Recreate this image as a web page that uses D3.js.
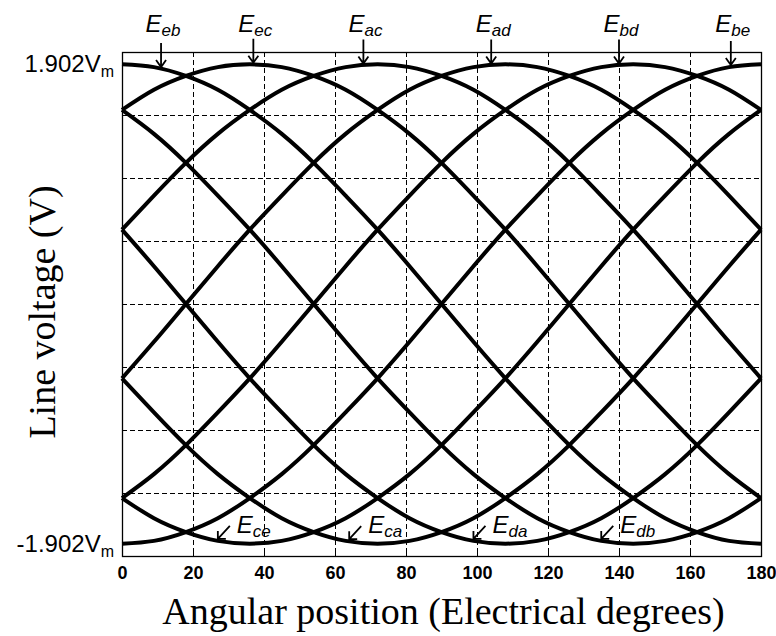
<!DOCTYPE html>
<html>
<head>
<meta charset="utf-8">
<script src="https://cdn.jsdelivr.net/npm/d3@7"></script>
<style>
  html, body { margin: 0; padding: 0; background: #fff; }
  svg { display: block; }
</style>
</head>
<body>
<svg id="chart" width="776" height="636"></svg>
<script>
// Sample angles (electrical degrees)
const angles = [0, 9, 18, 27, 36, 45, 54, 63, 72, 81, 90, 99, 108, 117, 126, 135, 144, 153, 162, 171, 180];

// Line voltages in units of Vm, one array per line voltage
const E_eb = [1.902, 1.88, 1.81, 1.70, 1.54, 1.35, 1.12, 0.86, 0.59, 0.30, 0, -0.30, -0.59, -0.86, -1.12, -1.35, -1.54, -1.70, -1.81, -1.88, -1.902];
const E_ec = [1.54, 1.70, 1.81, 1.88, 1.902, 1.88, 1.81, 1.70, 1.54, 1.35, 1.12, 0.86, 0.59, 0.30, 0, -0.30, -0.59, -0.86, -1.12, -1.35, -1.54];
const E_ac = [0.59, 0.86, 1.12, 1.35, 1.54, 1.70, 1.81, 1.88, 1.902, 1.88, 1.81, 1.70, 1.54, 1.35, 1.12, 0.86, 0.59, 0.30, 0, -0.30, -0.59];
const E_ad = [-0.59, -0.30, 0, 0.30, 0.59, 0.86, 1.12, 1.35, 1.54, 1.70, 1.81, 1.88, 1.902, 1.88, 1.81, 1.70, 1.54, 1.35, 1.12, 0.86, 0.59];
const E_bd = [-1.54, -1.35, -1.12, -0.86, -0.59, -0.30, 0, 0.30, 0.59, 0.86, 1.12, 1.35, 1.54, 1.70, 1.81, 1.88, 1.902, 1.88, 1.81, 1.70, 1.54];
const E_be = [-1.902, -1.88, -1.81, -1.70, -1.54, -1.35, -1.12, -0.86, -0.59, -0.30, 0, 0.30, 0.59, 0.86, 1.12, 1.35, 1.54, 1.70, 1.81, 1.88, 1.902];
const E_ce = [-1.54, -1.70, -1.81, -1.88, -1.902, -1.88, -1.81, -1.70, -1.54, -1.35, -1.12, -0.86, -0.59, -0.30, 0, 0.30, 0.59, 0.86, 1.12, 1.35, 1.54];
const E_ca = [-0.59, -0.86, -1.12, -1.35, -1.54, -1.70, -1.81, -1.88, -1.902, -1.88, -1.81, -1.70, -1.54, -1.35, -1.12, -0.86, -0.59, -0.30, 0, 0.30, 0.59];
const E_da = [0.59, 0.30, 0, -0.30, -0.59, -0.86, -1.12, -1.35, -1.54, -1.70, -1.81, -1.88, -1.902, -1.88, -1.81, -1.70, -1.54, -1.35, -1.12, -0.86, -0.59];
const E_db = [1.54, 1.35, 1.12, 0.86, 0.59, 0.30, 0, -0.30, -0.59, -0.86, -1.12, -1.35, -1.54, -1.70, -1.81, -1.88, -1.902, -1.88, -1.81, -1.70, -1.54];

const seriesList = [E_eb, E_ec, E_ac, E_ad, E_bd, E_be, E_ce, E_ca, E_da, E_db];

// Axis ticks and grid
const xTicks = [0, 20, 40, 60, 80, 100, 120, 140, 160, 180];
const yGrid = [-1.5, -1, -0.5, 0, 0.5, 1, 1.5];
const yTickValues = [1.902, -1.902];
const yTickLabels = ["1.902", "-1.902"];

// Curve annotations: subscript, series, angle the arrow points at
const topNotes = [
  { sub: "eb", series: E_eb, angle: 11 },
  { sub: "ec", series: E_ec, angle: 37 },
  { sub: "ac", series: E_ac, angle: 68 },
  { sub: "ad", series: E_ad, angle: 104 },
  { sub: "bd", series: E_bd, angle: 140 },
  { sub: "be", series: E_be, angle: 171.5 }
];
const bottomNotes = [
  { sub: "ce", series: E_ce, angle: 27 },
  { sub: "ca", series: E_ca, angle: 64 },
  { sub: "da", series: E_da, angle: 99 },
  { sub: "db", series: E_db, angle: 135 }
];

const svg = d3.select("#chart");
const margin = { left: 122, right: 15, top: 52, bottom: 80 };
const W = 776, H = 636;
const x = d3.scaleLinear().domain([0, 180]).range([margin.left, W - margin.right]);
const y = d3.scaleLinear().domain([-2, 2]).range([H - margin.bottom, margin.top]);
const crisp = v => Math.round(v) + 0.5;

const sans = "'Liberation Sans', Arial, sans-serif";
const serif = "'Liberation Serif', 'Times New Roman', serif";

// Grid
const grid = svg.append("g").attr("stroke", "#000").attr("stroke-width", 1)
  .attr("stroke-dasharray", "5,3").attr("fill", "none");
grid.selectAll("line.v").data(xTicks.slice(1, -1)).join("line")
  .attr("x1", d => crisp(x(d))).attr("x2", d => crisp(x(d)))
  .attr("y1", y(2)).attr("y2", y(-2));
grid.selectAll("line.h").data(yGrid).join("line")
  .attr("x1", x(0)).attr("x2", x(180))
  .attr("y1", d => crisp(y(d))).attr("y2", d => crisp(y(d)));

// Curves
const line = d3.line()
  .x((d, i) => x(angles[i]))
  .y(d => y(d))
  .curve(d3.curveNatural);
svg.append("g").selectAll("path").data(seriesList).join("path")
  .attr("d", d => line(d))
  .attr("fill", "none").attr("stroke", "#000")
  .attr("stroke-width", 4).attr("stroke-linejoin", "round");

// Frame
svg.append("rect")
  .attr("x", crisp(x(0))).attr("y", crisp(y(2)))
  .attr("width", Math.round(x(180) - x(0))).attr("height", Math.round(y(-2) - y(2)))
  .attr("fill", "none").attr("stroke", "#000").attr("stroke-width", 1.3);

// X axis
const xAxis = d3.axisBottom(x).tickValues(xTicks).tickSize(-5).tickPadding(10).tickFormat(d3.format("d"));
const gx = svg.append("g").attr("transform", `translate(0,${y(-2)})`).call(xAxis);
gx.select(".domain").remove();
gx.selectAll("text").attr("font-family", sans).attr("font-size", 18).attr("font-weight", "bold").attr("fill", "#000");
gx.selectAll("line").attr("stroke", "#000");

// Y axis labels at +-1.902 Vm
const yl = svg.append("g").selectAll("text").data(yTickValues).join("text")
  .attr("x", x(0) - 8).attr("y", d => y(d) + 8)
  .attr("text-anchor", "end")
  .attr("font-family", sans).attr("font-size", 24).attr("fill", "#000");
yl.append("tspan").text((d, i) => yTickLabels[i] + "V");
yl.append("tspan").attr("font-size", 16).attr("dy", 5).text("m");

// Axis titles
svg.append("text")
  .attr("x", (x(0) + x(180)) / 2 + 2).attr("y", 624)
  .attr("text-anchor", "middle")
  .attr("font-family", serif).attr("font-size", 38).attr("fill", "#000")
  .text("Angular position (Electrical degrees)");
svg.append("text")
  .attr("transform", `translate(55,${y(0) + 8}) rotate(-90)`)
  .attr("text-anchor", "middle")
  .attr("font-family", serif).attr("font-size", 38).attr("fill", "#000")
  .text("Line voltage (V)");

// Value of a series at a given angle (linear between samples)
function valueAt(series, a) {
  const i = Math.min(angles.length - 2, Math.floor(a / 9));
  const t = (a - angles[i]) / (angles[i + 1] - angles[i]);
  return series[i] + t * (series[i + 1] - series[i]);
}

function label(g, xPos, yPos, sub, anchor) {
  const t = g.append("text")
    .attr("x", xPos).attr("y", yPos)
    .attr("text-anchor", anchor)
    .attr("font-family", sans).attr("font-style", "italic")
    .attr("font-size", 24).attr("fill", "#000");
  t.append("tspan").text("E");
  t.append("tspan").attr("font-size", 17).attr("dy", 4).text(sub);
}

const notes = svg.append("g");
topNotes.forEach(n => {
  const ax = x(n.angle);
  const tipY = y(valueAt(n.series, n.angle)) - 2;
  const topY = tipY - 24;
  notes.append("path")
    .attr("d", `M${ax},${topY} L${ax},${tipY} M${ax - 5},${tipY - 7} L${ax},${tipY} L${ax + 5},${tipY - 7}`)
    .attr("fill", "none").attr("stroke", "#000").attr("stroke-width", 1.8);
  label(notes, ax + 2, 32, n.sub, "middle");
});
bottomNotes.forEach(n => {
  const ax = x(n.angle);
  const tipY = y(valueAt(n.series, n.angle)) - 2;
  const tx = ax + 12, ty = tipY - 13;
  notes.append("path")
    .attr("d", `M${tx},${ty} L${ax},${tipY} M${ax},${tipY - 8} L${ax},${tipY} L${ax + 8},${tipY}`)
    .attr("fill", "none").attr("stroke", "#000").attr("stroke-width", 1.8);
  label(notes, ax + 19, tipY - 6, n.sub, "start");
});
</script>
</body>
</html>
